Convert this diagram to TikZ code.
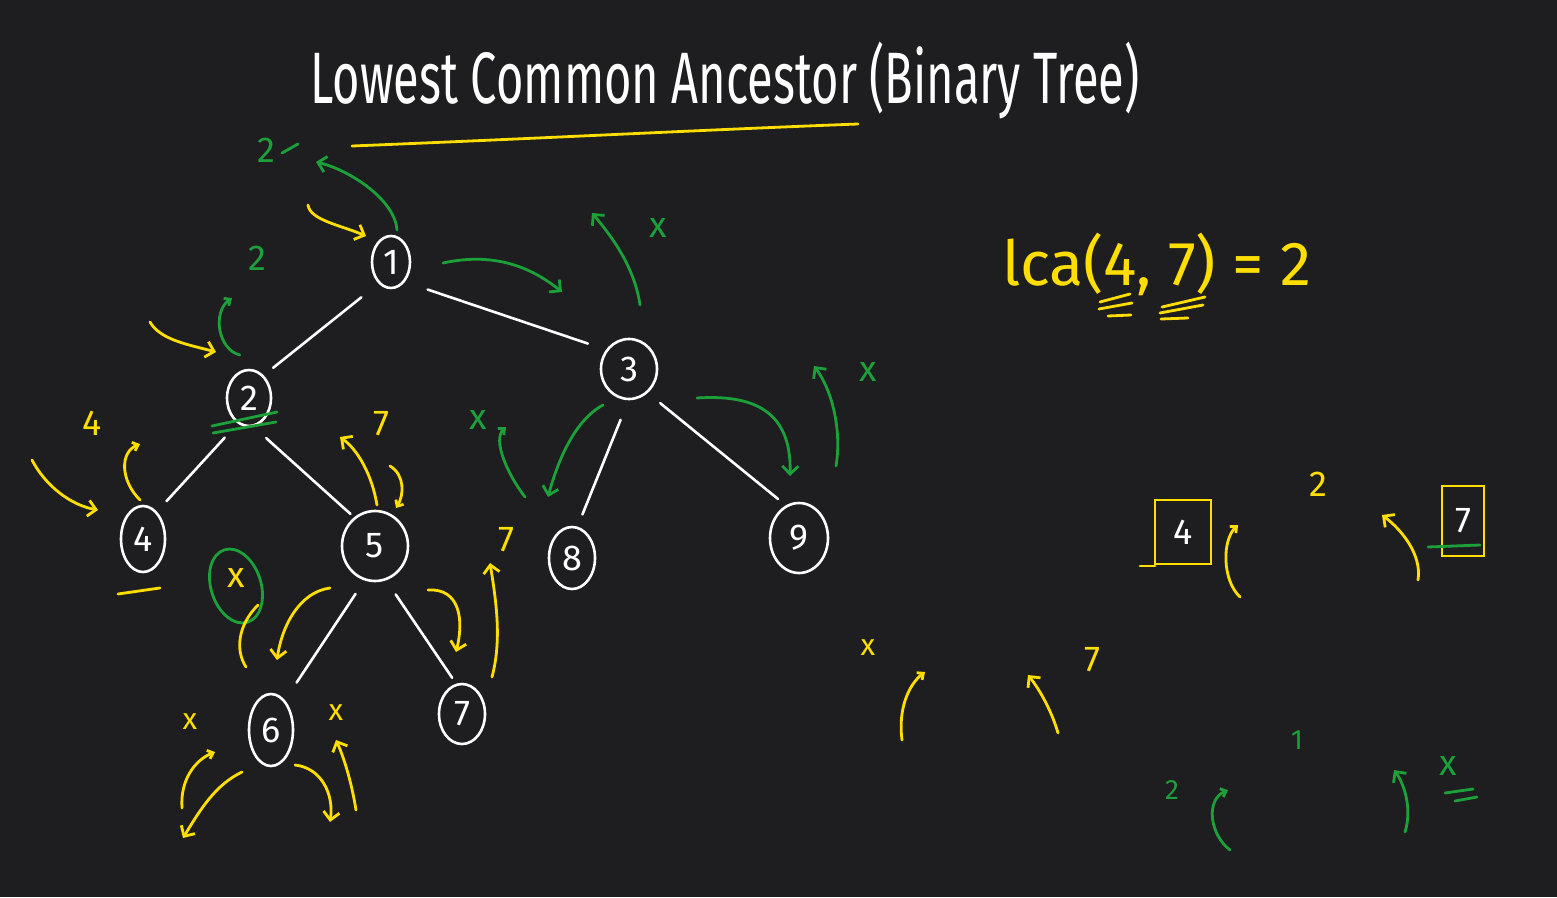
\documentclass[tikz,border=0pt]{standalone}
\usepackage{fontspec}
\usepackage{graphicx}
\setmainfont{Fira Sans}
\usetikzlibrary{shapes.geometric,arrows.meta}

\definecolor{board}{RGB}{30,30,32}
\definecolor{penyellow}{RGB}{255,222,0}
\definecolor{pengreen}{RGB}{28,160,58}

\begin{document}
\begin{tikzpicture}[
    x=1pt, y=-1pt,
    every node/.style={font=\fontsize{36}{40}\selectfont, inner sep=0pt},
    treenode/.style={
        ellipse,
        draw=white,
        line width=2.6pt,
        text=white,
        minimum width=44pt,
        minimum height=58pt
    },
    edge/.style={draw=white, line width=2.6pt, line cap=round},
    ypen/.style={penyellow, line width=2.8pt, line cap=round},
    gpen/.style={pengreen, line width=2.8pt, line cap=round},
    yarrow/.style={ypen, -{Straight Barb[length=8pt,width=16pt,line width=2.8pt]}},
    garrow/.style={gpen, -{Straight Barb[length=8pt,width=16pt,line width=2.8pt]}},
    yhook/.style={ypen, -{Straight Barb[length=5pt,width=9pt,line width=2.8pt]}},
    ghook/.style={gpen, -{Straight Barb[length=5pt,width=9pt,line width=2.8pt]}},
    ylabel/.style={text=penyellow},
    glabel/.style={text=pengreen},
    ybox/.style={draw=penyellow, line width=2.8pt, text=white}
]

% board
\fill[board] (0,0) rectangle (1557,897);

% title
\node[text=white] (title) at (725,80)
    {\scalebox{1}[1.55]{\fontsize{47}{50}\selectfont Lowest Common Ancestor (Binary Tree)}};
\draw[ypen] (352,146) .. controls (550,138) and (700,130) .. (858,124);

% binary tree
\node[treenode, minimum width=38pt, minimum height=52pt] (n1) at (391,262) {1};
\node[treenode, minimum width=44pt, minimum height=56pt] (n2) at (249,398) {2};
\node[treenode, minimum width=56pt, minimum height=60pt] (n3) at (629,369) {3};
\node[treenode, minimum width=44pt, minimum height=66pt] (n4) at (143,539) {4};
\node[treenode, minimum width=66pt, minimum height=70pt] (n5) at (375,546) {5};
\node[treenode, minimum width=44pt, minimum height=72pt] (n6) at (271,730) {6};
\node[treenode, minimum width=46pt, minimum height=60pt] (n7) at (462,714) {7};
\node[treenode, minimum width=46pt, minimum height=62pt] (n8) at (572,558) {8};
\node[treenode, minimum width=58pt, minimum height=70pt] (n9) at (799,538) {9};

\draw[edge, shorten <=22pt, shorten >=12pt] (n1.240) -- (n2.57);
\draw[edge, shorten <=24pt, shorten >=19pt] (n1.305) -- (n3.140);
\draw[edge, shorten <=19pt, shorten >=14pt] (n2.246) -- (n4.63);
\draw[edge, shorten <=17pt, shorten >=5pt] (n2.279) -- (n5.126);
\draw[edge, shorten <=21pt, shorten >=13pt] (n3.269) -- (n8.80);
\draw[edge, shorten <=16pt, shorten >=10pt] (n3.308) -- (n9.112);
\draw[edge, shorten <=16pt, shorten >=21pt] (n5.253) -- (n6.65);
\draw[edge, shorten <=17pt, shorten >=7pt] (n5.288) -- (n7.101);

% green: returns from the top
\node[glabel] (g2top) at (266,150) {2};
\draw[gpen] (282,153) -- (298,144);
\draw[garrow] (397,230) .. controls (395,200) and (350,170) .. (316,162);
\draw[yarrow] (308,205) .. controls (310,220) and (340,225) .. (366,236);
\node[glabel] (g2left) at (257,258) {2};
\draw[ghook] (240,355) .. controls (218,350) and (212,312) .. (232,298);
\draw[yarrow] (150,322) .. controls (160,340) and (190,345) .. (216,352);
\draw[gpen] (212,426) -- (277,412);
\draw[gpen] (213,433) -- (276,422);

% green: right subtree of 1
\draw[garrow] (443,263) .. controls (480,255) and (520,258) .. (562,292);
\draw[garrow] (640,305) .. controls (635,270) and (615,240) .. (592,213);
\node[glabel] (gx3) at (658,228) {x};
\draw[garrow] (603,405) .. controls (575,420) and (558,460) .. (548,497);
\node[glabel] (gx8) at (478,420) {x};
\draw[ghook] (525,497) .. controls (508,475) and (492,440) .. (506,427);
\draw[garrow] (697,398) .. controls (745,395) and (792,405) .. (790,476);
\draw[garrow] (836,466) .. controls (842,430) and (832,390) .. (814,366);
\node[glabel] (gx9) at (868,372) {x};

% yellow: left subtree of 2
\node[ylabel] (y4) at (92,423) {4};
\draw[yarrow] (32,460) .. controls (45,485) and (70,505) .. (98,510);
\draw[yhook] (140,500) .. controls (120,480) and (120,452) .. (140,444);
\draw[ypen] (118,594) -- (160,588);
\node[ylabel] (yxnull) at (236,578) {x};
\draw[gpen, rotate around={18:(236,586)}] (236,586) ellipse (25pt and 38pt);
\draw[ypen] (246,667) .. controls (235,650) and (238,625) .. (258,605);

% yellow: subtree of 5
\node[ylabel] (y7a) at (381,424) {7};
\draw[yarrow] (377,505) .. controls (372,475) and (358,450) .. (340,437);
\draw[yhook] (390,466) .. controls (405,475) and (404,495) .. (396,508);
\draw[yarrow] (330,588) .. controls (300,592) and (282,625) .. (277,660);
\draw[yarrow] (428,590) .. controls (460,588) and (464,620) .. (456,652);
\draw[yarrow] (492,677) .. controls (502,640) and (496,600) .. (490,563);
\node[ylabel] (y7b) at (506,540) {7};

% yellow: children of 6
\node[ylabel, font=\fontsize{30}{32}\selectfont] (yx6l) at (190,722) {x};
\node[ylabel, font=\fontsize{30}{32}\selectfont] (yx6r) at (336,713) {x};
\draw[yhook] (182,808) .. controls (180,780) and (195,760) .. (215,752);
\draw[yarrow] (242,772) .. controls (215,785) and (200,810) .. (183,838);
\draw[yarrow] (295,765) .. controls (322,768) and (334,795) .. (330,822);
\draw[yarrow] (356,810) .. controls (352,785) and (345,760) .. (336,740);

% result
\node[ylabel] (lca) at (1157,264)
    {\scalebox{1.36}[1.35]{\fontsize{46}{50}\selectfont lca(4, 7) = 2}};
\draw[ypen] (1100,302) -- (1130,294);
\draw[ypen] (1099,309) -- (1132,303);
\draw[ypen] (1108,316) -- (1131,315);
\draw[ypen] (1162,307) -- (1205,297);
\draw[ypen] (1160,313) -- (1203,305);
\draw[ypen] (1161,319) -- (1188,318);

% yellow: summary at 2
\node[ylabel] (ysum2) at (1318,484) {2};
\node[ybox, minimum width=56pt, minimum height=64pt] (box4) at (1183,532) {4};
\draw[ypen] (1140,566) -- (1155,566);
\draw[yhook] (1240,597) .. controls (1222,580) and (1222,540) .. (1238,525);
\draw[yarrow] (1418,580) .. controls (1422,555) and (1402,530) .. (1382,515);
\node[ybox, minimum width=42pt, minimum height=70pt] (box7) at (1463,521) {7};
\draw[gpen] (1428,547) -- (1480,545);

% yellow: summary at 5
\node[ylabel, font=\fontsize{30}{32}\selectfont] (yx5) at (868,648) {x};
\draw[yhook] (902,740) .. controls (898,710) and (908,685) .. (925,672);
\draw[yarrow] (1058,733) .. controls (1052,712) and (1040,690) .. (1028,675);
\node[ylabel] (y7c) at (1092,660) {7};

% green: summary at 1
\node[glabel, font=\fontsize{28}{30}\selectfont] (g1sum) at (1297,740) {1};
\node[glabel, font=\fontsize{28}{30}\selectfont] (g2sum) at (1172,790) {2};
\draw[ghook] (1230,850) .. controls (1210,835) and (1205,800) .. (1228,790);
\draw[garrow] (1405,832) .. controls (1412,810) and (1405,785) .. (1394,770);
\node[glabel] (gxsum) at (1448,766) {x};
\draw[gpen] (1445,793) -- (1473,789);
\draw[gpen] (1455,801) -- (1477,797);

\end{tikzpicture}
\end{document}
